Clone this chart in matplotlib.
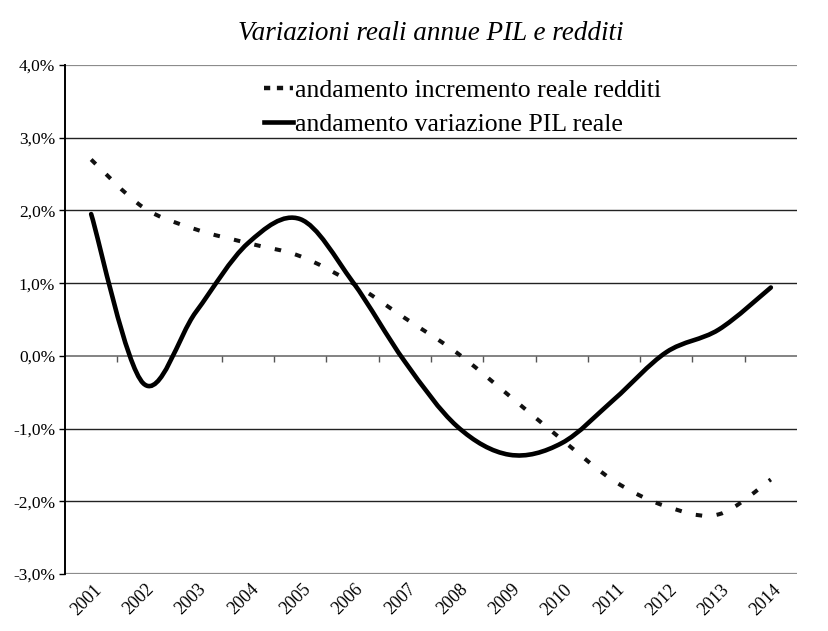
import numpy as np
import matplotlib
matplotlib.use('Agg')
import matplotlib.pyplot as plt
from matplotlib.path import Path
from matplotlib.patches import PathPatch
from matplotlib.lines import Line2D
import matplotlib.transforms as mtransforms

plt.rcParams['font.family'] = ['Liberation Serif', 'DejaVu Serif']

# ── dati ────────────────────────────────────────────────────────────────────
anni = ['2001', '2002', '2003', '2004', '2005', '2006', '2007',
        '2008', '2009', '2010', '2011', '2012', '2013', '2014']
# variazione PIL reale (%)
pil = [1.95, -0.38, 0.60, 1.55, 1.88, 1.02, -0.08,
       -0.97, -1.36, -1.20, -0.60, 0.05, 0.36, 0.94]
# incremento reale redditi (%)
redditi = [2.70, 2.04, 1.74, 1.55, 1.37, 1.00, 0.52,
           0.04, -0.55, -1.15, -1.72, -2.07, -2.18, -1.70]
y_ticks = [-3, -2, -1, 0, 1, 2, 3, 4]

titolo = 'Variazioni reali annue PIL e redditi'
lab_redditi = 'andamento incremento reale redditi'
lab_pil = 'andamento variazione PIL reale'


def curva_smussata(x, y):
    """Linea smussata stile Excel (Catmull-Rom -> Bezier cubiche)."""
    p = np.column_stack([x, y]).astype(float)
    ext = np.vstack([p[0], p, p[-1]])
    verts = [p[0]]
    codes = [Path.MOVETO]
    for i in range(len(p) - 1):
        p0, p1, p2, p3 = ext[i], ext[i + 1], ext[i + 2], ext[i + 3]
        c1 = p1 + (p2 - p0) / 6.0
        c2 = p2 - (p3 - p1) / 6.0
        verts += [c1, c2, p2]
        codes += [Path.CURVE4] * 3
    return Path(verts, codes)


W, H = 829, 631
fig = plt.figure(figsize=(W / 100, H / 100), dpi=100)
fig.patch.set_facecolor('white')

left, right, top, bottom = 65, 797, 65, 574
ax = fig.add_axes([left / W, 1 - bottom / H, (right - left) / W, (bottom - top) / H])
ax.set_xlim(0, len(anni))
ax.set_ylim(y_ticks[0], y_ticks[-1])

# griglia orizzontale
for v in y_ticks:
    if v in (y_ticks[0], y_ticks[-1]):
        ax.axhline(v, color='#8c8c8c', lw=1.6, zorder=1)
    elif v == 0:
        ax.axhline(v, color='#7a7a7a', lw=1.3, zorder=1)
    else:
        ax.axhline(v, color='#222222', lw=1.0, zorder=1)

for s in ['top', 'right', 'bottom']:
    ax.spines[s].set_visible(False)
ax.spines['left'].set_color('black')
ax.spines['left'].set_linewidth(1.4)

# asse y
ax.set_yticks(y_ticks)
ax.set_yticklabels([f'{v:.1f}%'.replace('.', ',') for v in y_ticks], fontsize=12.5)
ax.tick_params(axis='y', length=4, width=1.0, color='black', pad=3)

# tacche sull'asse zero (tra le categorie)
ax.set_xticks([])
conf = np.arange(1, len(anni))
ax.vlines(conf, 0, -0.09, colors='#555555', lw=1.0, zorder=2)

# etichette anni sotto l'area del grafico
xc = np.arange(len(anni)) + 0.5
lab_tr = ax.get_xaxis_transform() + mtransforms.ScaledTranslation(8 / 100, -13 / 100, fig.dpi_scale_trans)
for x, a in zip(xc, anni):
    ax.text(x, 0, a, transform=lab_tr, rotation=45, ha='right', va='center',
            rotation_mode='anchor', fontsize=13, clip_on=False)

# serie
ax.add_patch(PathPatch(curva_smussata(xc, redditi), fill=False, color='#111111',
                       lw=2.9, linestyle=(0, (1.6, 3.6)), capstyle='butt', zorder=3))
ax.add_patch(PathPatch(curva_smussata(xc, pil), fill=False, color='black',
                       lw=3.3, capstyle='round', zorder=4))

handles = [Line2D([], [], color='#111111', lw=3.2, linestyle=(0, (1.4, 1.5))),
           Line2D([], [], color='black', lw=3.3)]
ax.legend(handles, [lab_redditi, lab_pil], loc='upper left',
          bbox_to_anchor=((254 - left) / (right - left), 0.993),
          frameon=False, fontsize=18.5, handlelength=1.1, handletextpad=0.08,
          labelspacing=0.42, borderaxespad=0)

fig.text(0.52, 1 - 33 / H, titolo, ha='center', va='center',
         fontsize=19.5, style='italic')

fig.savefig('out.png', dpi=100, facecolor='white')
